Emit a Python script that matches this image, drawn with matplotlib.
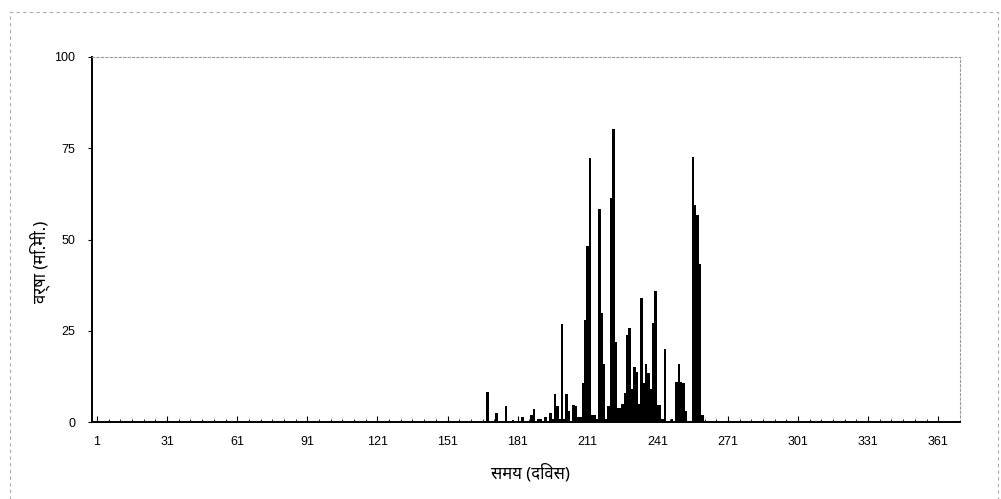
import numpy as np
import matplotlib.pyplot as plt
from matplotlib.patches import Rectangle

# Dias con lluvia (dia del año) y lluvia diaria en mm
wet_days = [168, 172, 176, 179, 183, 187, 188, 190, 191, 193, 195, 196, 197, 198,
            199, 200, 201, 202, 203, 205, 206, 207, 208, 209, 210, 211, 212, 213,
            214, 215, 216, 217, 218, 219, 220, 221, 222, 223, 224, 225, 226, 227,
            228, 229, 230, 231, 232, 233, 234, 235, 236, 237, 238, 239, 240, 241,
            242, 243, 244, 247, 249, 250, 251, 252, 253, 256, 257, 258, 259, 260]
wet_rain = [8.3, 2.4, 4.4, 0.5, 1.5, 2.0, 3.5, 1.0, 1.0, 1.5, 2.5, 1.0, 7.6, 4.4,
            1.0, 26.8, 1.0, 7.6, 3.0, 4.6, 4.4, 1.5, 1.5, 10.8, 27.9, 48.3, 72.2, 2.0,
            2.0, 1.0, 58.4, 29.8, 16.0, 1.0, 4.5, 61.3, 80.2, 22.0, 4.0, 4.0, 5.0, 8.0,
            23.8, 25.8, 9.0, 15.2, 13.6, 5.0, 33.9, 10.7, 16.0, 13.4, 9.0, 27.2, 36.0, 4.6,
            4.6, 1.0, 19.9, 1.0, 11.0, 16.0, 11.0, 10.6, 3.0, 72.5, 59.5, 56.7, 43.2, 2.0]

days = np.arange(1, 366)
rain = np.zeros(365)
for d, r in zip(wet_days, wet_rain):
    rain[d - 1] = r

x_ticks = list(range(1, 366, 30))
y_ticks = [0, 25, 50, 75, 100]

plt.rcParams['font.family'] = ['Liberation Sans', 'DejaVu Sans']

fig = plt.figure(figsize=(10.01, 4.99), dpi=100)
ax = fig.add_axes([0.092, 0.154, 0.867, 0.732])

ax.bar(days, rain, width=1.1, color="black", linewidth=0)

ax.set_xlim(-1.1, 370.3)
ax.set_ylim(0, 100)
ax.set_xticks(x_ticks)
ax.set_xticks(range(1, 366, 5), minor=True)
ax.set_yticks(y_ticks)
ax.tick_params(axis="x", which="major", direction="in", length=4, labelsize=9, pad=10)
ax.tick_params(axis="x", which="minor", direction="in", length=2)
ax.tick_params(axis="y", direction="out", length=3, labelsize=9, pad=9)

for s in ["left", "bottom"]:
    ax.spines[s].set_linewidth(1.4)
    ax.spines[s].set_color("black")
for s in ["top", "right"]:
    ax.spines[s].set_linewidth(0.8)
    ax.spines[s].set_color("#999999")
    ax.spines[s].set_linestyle((0, (2, 2)))

ax.set_xlabel("समय (दिवस)", fontsize=12, labelpad=8,
              family=['Noto Sans', 'DejaVu Sans'])
ax.set_ylabel("वर्षा (मि.मी.)", fontsize=12,
              family=['Noto Sans', 'DejaVu Sans'])
ax.yaxis.set_label_coords(-0.048, 0.44)
ax.xaxis.set_label_coords(0.505, -0.115)

# borde punteado del escaneo
fig.patches.append(Rectangle((0.01, -0.01), 0.987, 0.985, transform=fig.transFigure,
                             fill=False, edgecolor="#aaaaaa", linewidth=0.8,
                             linestyle=(0, (3, 3))))

fig.savefig("out.png", dpi=100)
